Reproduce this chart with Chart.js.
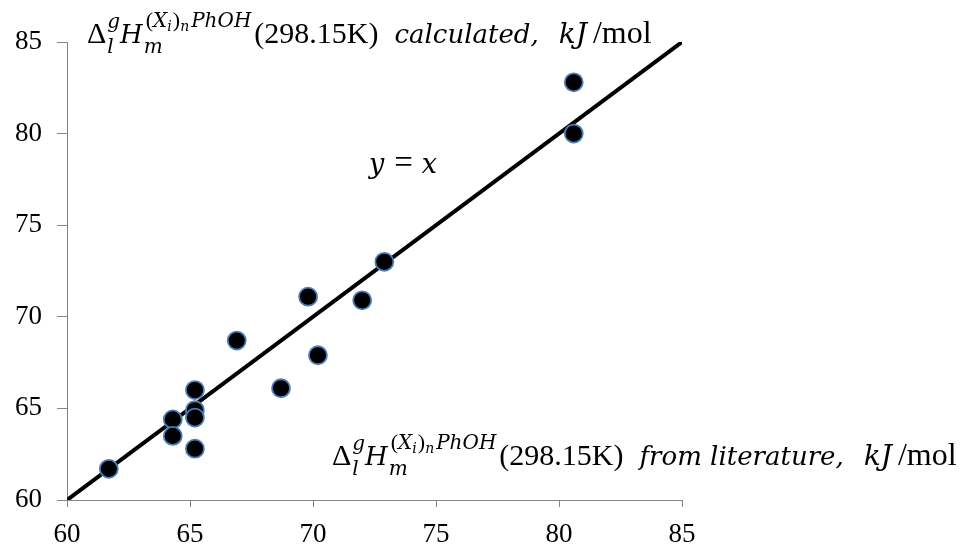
<!DOCTYPE html>
<html>
<head>
<meta charset="utf-8">
<script src="https://cdn.jsdelivr.net/npm/chart.js@4/dist/chart.umd.min.js"></script>
<style>
  body { margin: 0; background: #fff; }
  #wrap { width: 970px; height: 547px; }
</style>
</head>
<body>
<div id="wrap"><canvas id="enthalpy" width="970" height="547"></canvas></div>
<script>
// enthalpy of vaporization, kJ/mol
var litValues  = [61.7, 64.3, 64.3, 65.2, 65.2, 65.2, 65.2, 66.9, 68.7, 69.8, 70.2, 72.0, 72.9, 80.6, 80.6];
var calcValues = [61.7, 64.4, 63.5, 66.0, 64.9, 64.5, 62.8, 68.7, 66.1, 71.1, 67.9, 70.9, 73.0, 82.8, 80.0];
var lineEnds   = [60, 85];
var axisMin = 60, axisMax = 85, axisStep = 5;

var serif = "'Liberation Serif', 'Times New Roman', serif";
var mathIt = "'DejaVu Serif', serif";

var points = [];
for (var i in litValues) {
  points.push({ x: litValues[i], y: calcValues[i] });
}
var diag = [];
for (var i in lineEnds) {
  diag.push({ x: lineEnds[i], y: lineEnds[i] });
}

// runs: t = text, f = 'it' (math italic) or 'rm' (roman), s = size, dy = baseline shift,
// under = start at same x as the previous run (stacked sub/superscript)
function drawRuns(ctx, x0, y0, runs) {
  var x = x0, prevStart = x0, prevEnd = x0;
  ctx.textBaseline = 'alphabetic';
  ctx.textAlign = 'left';
  ctx.fillStyle = '#000';
  runs.forEach(function(r) {
    ctx.font = (r.f === 'it' ? 'italic ' + r.s + 'px ' + mathIt : r.s + 'px ' + serif);
    var start = r.under ? prevStart : x + (r.pre || 0);
    ctx.fillText(r.t, start, y0 + (r.dy || 0));
    var end = start + ctx.measureText(r.t).width + (r.post || 0);
    if (r.under) { x = Math.max(prevEnd, end); } else { x = end; }
    prevStart = start; prevEnd = x;
  });
  return x;
}

function formula(words) {
  var R = 30, M = 26, s1 = 20, s2 = 14;
  return [
    { t: 'Δ', f: 'rm', s: R, post: 1 },
    { t: 'g', f: 'it', s: s1, dy: -15 },
    { t: 'l', f: 'it', s: s1, dy: 10, under: true, post: 3 },
    { t: 'H', f: 'it', s: M, post: 3 },
    { t: '(', f: 'rm', s: s1 + 2, dy: -16 },
    { t: 'X', f: 'it', s: s1, dy: -16 },
    { t: 'i', f: 'it', s: s2, dy: -12, post: 1 },
    { t: ')', f: 'rm', s: s1 + 2, dy: -16 },
    { t: 'n', f: 'it', s: s2, dy: -12, post: 2 },
    { t: 'PhOH', f: 'it', s: s1, dy: -16, post: 3 },
    { t: '(298.15K)', f: 'rm', s: R, post: 16 },
    { t: words + ',', f: 'it', s: M, post: 20 },
    { t: 'kJ', f: 'it', s: 28, post: 6 },
    { t: '/mol', f: 'rm', s: 32 }
  ];
}

var labelsPlugin = {
  id: 'labels',
  afterDraw: function(chart) {
    var ctx = chart.ctx;
    ctx.save();
    var top = formula('calculated');
    var bottom = formula('from literature');
    drawWithM(ctx, 87, 43, top);
    drawWithM(ctx, 332, 465, bottom);
    drawRuns(ctx, 369, 173, [
      { t: 'y', f: 'it', s: 27, post: 10 },
      { t: '=', f: 'rm', s: 33, post: 9 },
      { t: 'x', f: 'it', s: 27 }
    ]);
    ctx.restore();
  }
};

// subscript m sits under the superscript group, right after H
function drawWithM(ctx, x0, y0, runs) {
  var head = runs.slice(0, 4);
  var tail = runs.slice(4);
  var hx = drawRuns(ctx, x0, y0, head);
  ctx.font = 'italic 20px ' + mathIt;
  ctx.fillText('m', hx - 2, y0 + 10);
  drawRuns(ctx, hx, y0, tail);
}

var ctx = document.getElementById('enthalpy');
var myChart = new Chart(ctx, {
  type: 'scatter',
  data: {
    datasets: [
      {
        label: 'data',
        data: points,
        backgroundColor: '#000000',
        borderColor: '#4A7EBB',
        borderWidth: 1.8,
        pointRadius: 9,
        order: 0
      },
      {
        type: 'line',
        label: 'y = x',
        data: diag,
        borderColor: '#000000',
        borderWidth: 4,
        pointRadius: 0,
        fill: false,
        order: 1
      }
    ]
  },
  options: {
    responsive: false,
    animation: false,
    layout: { padding: { top: 42, right: 288, left: 0, bottom: 0 } },
    plugins: {
      legend: { display: false },
      tooltip: { enabled: false }
    },
    scales: {
      x: {
        type: 'linear',
        min: axisMin, max: axisMax,
        afterFit: function(scale) { scale.height = 47; },
        ticks: { stepSize: axisStep, color: '#000', padding: 12, font: { family: serif, size: 27 } },
        grid: { drawOnChartArea: false, drawTicks: true, tickLength: 7, color: '#868686' },
        border: { color: '#868686', width: 1 }
      },
      y: {
        type: 'linear',
        min: axisMin, max: axisMax,
        afterFit: function(scale) { scale.width = 67; },
        ticks: { stepSize: axisStep, color: '#000', padding: 15, font: { family: serif, size: 27 } },
        grid: { drawOnChartArea: false, drawTicks: true, tickLength: 10, color: '#868686' },
        border: { color: '#868686', width: 1 }
      }
    }
  },
  plugins: [labelsPlugin]
});
</script>
</body>
</html>
